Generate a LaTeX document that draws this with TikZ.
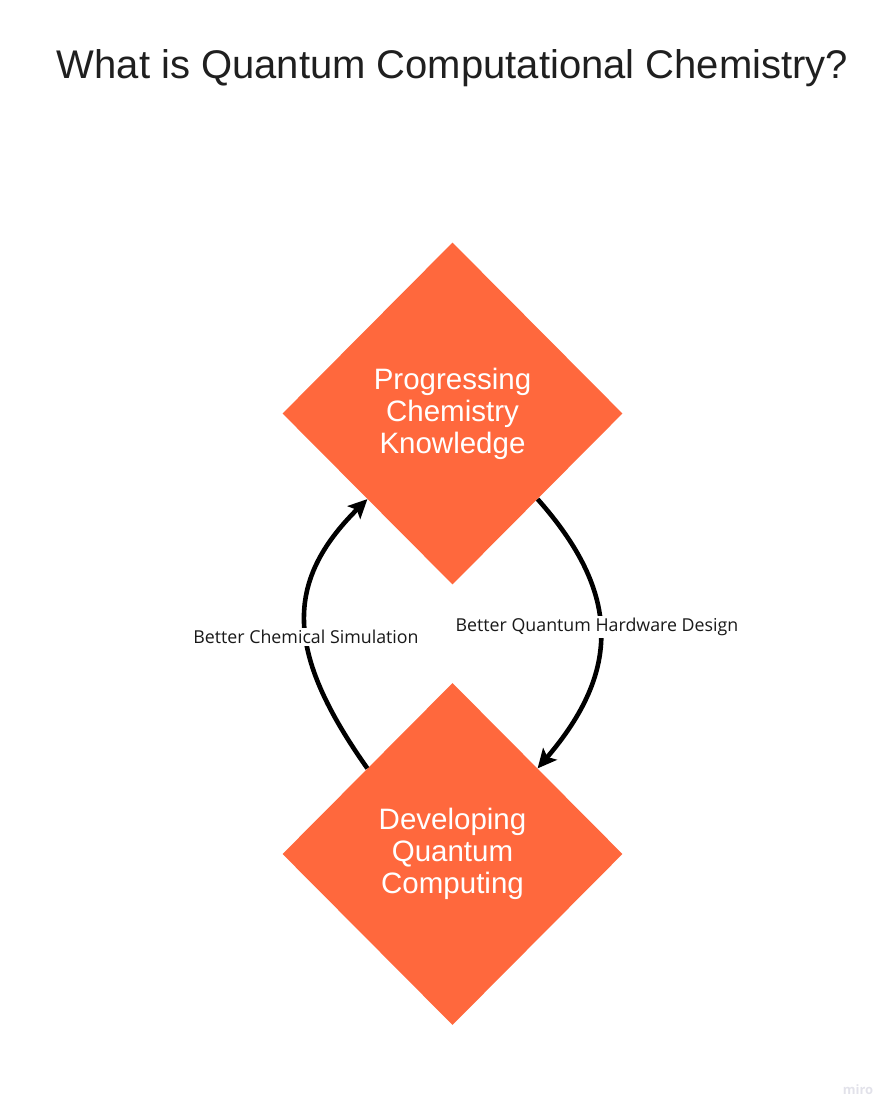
\documentclass[tikz,border=0pt]{standalone}
\usepackage{fontspec}
\setmainfont{Liberation Sans}
\newfontfamily\labelfont{Open Sans}
\usetikzlibrary{shapes.geometric,arrows.meta}
\definecolor{miroorange}{HTML}{FF683D}
\definecolor{wmgray}{HTML}{E2E2EA}
\tikzset{
  bigdiamond/.style={diamond, fill=miroorange, draw=none, minimum width=340pt, minimum height=342pt, inner sep=0pt,
    text=white, align=center, font=\fontsize{29.5}{32}\selectfont},
  cyclearc/.style={line width=4.6pt, -{Stealth[length=19pt,width=18pt,inset=4pt]}},
  arclabel/.style={fill=white, inner sep=2pt, font=\labelfont\fontsize{17.8}{21}\selectfont, text=black!90},
}
\begin{document}
\begin{tikzpicture}[x=1pt,y=-1pt]
\useasboundingbox (0,0) rectangle (895,1116);
\node[font=\fontsize{40}{48}\selectfont, text=black!88, anchor=base] (title) at (452.5,78) {What is Quantum Computational Chemistry?};
\node[bigdiamond] (chem) at (452.5,413.5) {Progressing\\Chemistry\\Knowledge};
\node[bigdiamond] (qc) at (452.5,854) {Developing\\Quantum\\Computing};
\draw[cyclearc] (qc.north west) .. controls (285,652) and (284,582) .. (chem.south west);
\draw[cyclearc] (chem.south east) .. controls (621,593) and (621,671) .. (qc.north east);
\node[arclabel] (lblL) at (306,637) {Better Chemical Simulation};
\node[arclabel] (lblR) at (597,627) {Better Quantum Hardware Design};
\node[font=\labelfont\bfseries\fontsize{13}{15}\selectfont, text=wmgray] (wm) at (858,1090) {miro};
\end{tikzpicture}
\end{document}
